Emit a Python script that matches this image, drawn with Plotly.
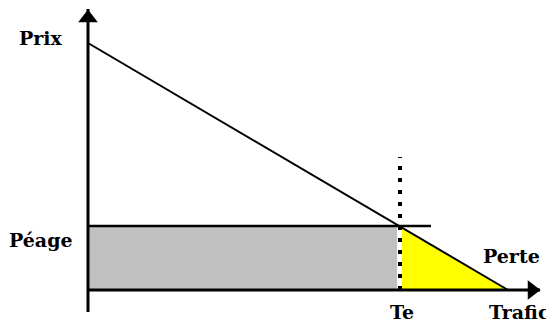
import numpy as np
import plotly.graph_objects as go

# demand curve (trafic, prix)
demand_q = [0, 420]
demand_p = [247, 0]
peage = 64          # toll level
te = 312            # equilibrium traffic with toll
peage_end = 343     # where the toll line stops
dot_top = 133       # top of the dotted line at Te
x_axis = [0, 452]
y_axis = [-22, 281]

labels = ["Prix", "Péage", "Perte", "Te", "Trafic"]
label_x = [-47, -47, 423, te + 2, 431]
label_y = [252, 50, 34, -22, -22]

font = dict(family="DejaVu Serif", size=19, color="black", weight="bold")

fig = go.Figure()

# gray rectangle = toll revenue
fig.add_trace(go.Scatter(x=[0, te - 3, te - 3, 0], y=[0, 0, peage, peage],
                         fill="toself", fillcolor="#c0c0c0", mode="none"))

# yellow triangle = loss
p_start = np.interp(te + 2, demand_q, demand_p)
fig.add_trace(go.Scatter(x=[te + 2, demand_q[-1], te + 2], y=[p_start, 0, 0],
                         fill="toself", fillcolor="#ffff00", mode="none"))

# axes
fig.add_trace(go.Scatter(x=x_axis, y=[0, 0], mode="lines",
                         line=dict(color="black", width=3)))
fig.add_trace(go.Scatter(x=[0, 0], y=y_axis, mode="lines",
                         line=dict(color="black", width=3)))
fig.add_trace(go.Scatter(x=[0], y=[y_axis[1] - 9], mode="markers",
                         marker=dict(symbol="triangle-up", size=17, color="black")))
fig.add_trace(go.Scatter(x=[x_axis[1] - 8], y=[0], mode="markers",
                         marker=dict(symbol="triangle-right", size=17, color="black")))

# demand line and toll line
fig.add_trace(go.Scatter(x=demand_q, y=demand_p, mode="lines",
                         line=dict(color="black", width=2)))
fig.add_trace(go.Scatter(x=[0, peage_end], y=[peage, peage], mode="lines",
                         line=dict(color="black", width=2.5)))

# dotted line at Te
fig.add_trace(go.Scatter(x=[te, te], y=[0, dot_top], mode="lines",
                         line=dict(color="black", width=4, dash="4px,8px")))

for t, x, y in zip(labels, label_x, label_y):
    fig.add_annotation(x=x, y=y, text=t, showarrow=False, font=font,
                       xanchor="center", yanchor="middle", borderpad=0)

# the page adds an 8px body margin, so the figure is 8px smaller
fig.update_layout(
    width=546, height=317,
    margin=dict(l=0, r=0, t=0, b=0),
    paper_bgcolor="white", plot_bgcolor="white",
    showlegend=False,
    xaxis=dict(range=[-80, 466], visible=False, fixedrange=True),
    yaxis=dict(range=[-35, 282], visible=False, fixedrange=True),
)

fig.write_html("out.html")
